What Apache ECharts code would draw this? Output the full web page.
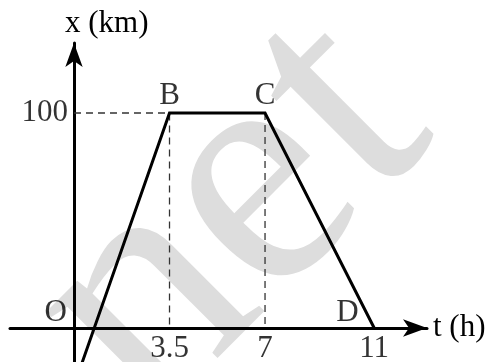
<!DOCTYPE html>
<html><head><meta charset="utf-8">
<script src="https://cdn.jsdelivr.net/npm/echarts@6/dist/echarts.min.js"></script>
<style>html,body{margin:0;padding:0;background:#fff}#c{width:493px;height:362px}</style>
</head><body><div id="c"></div>
<script>
// Data
const pathT = [0.3, 3.5, 7, 11];
const pathX = [-16, 100, 100, 0];
const pointNames = ['B', 'C', 'D'];
const pointT = [3.5, 7, 11];
const pointX = [100, 100, 0];
const tickT = [3.5, 7, 11];
const tickLabels = ['3.5', '7', '11'];
const yTickX = [100];
const yTickLabels = ['100'];
const guideB = [[0, 100], [3.5, 100], [3.5, 0]];
const guideC = [[7, 100], [7, 0]];

const FONT = "'Liberation Serif','Times New Roman',serif";
const FS = 31;
const chart = echarts.init(document.getElementById('c'), null, {renderer: 'canvas'});
const mainData = pathT.map((t, i) => [t, pathX[i]]);
const labelStyle = {color: '#000', fontFamily: FONT, fontSize: FS};
const pointLabelCfg = [
  {position: 'top', distance: 2},
  {position: 'top', distance: 2},
  {position: [-38, -31]}
];

chart.setOption({
  animation: false,
  backgroundColor: '#fff',
  graphic: [{
    type: 'text', z: -10, rotation: Math.PI / 4,
    x: 232, y: 219,
    style: {text: 'net', fill: '#dddddd', font: "335px 'Liberation Serif', 'Times New Roman', serif", align: 'center', verticalAlign: 'middle'}
  }],
  grid: {left: 10, top: 43, width: 417, height: 319, containLabel: false},
  xAxis: {
    type: 'value', min: -2.345, max: 12.935,
    name: 't (h)', nameLocation: 'end', nameGap: 6,
    nameTextStyle: labelStyle,
    axisLine: {onZero: true, lineStyle: {color: '#000', width: 3}, symbol: ['none', 'arrow'], symbolSize: [13, 24]},
    axisTick: {show: false}, axisLabel: {show: false}, splitLine: {show: false}
  },
  yAxis: {
    type: 'value', min: -15.81, max: 132.56,
    name: 'x (km)', nameLocation: 'end', nameGap: 4,
    nameTextStyle: Object.assign({}, labelStyle, {align: 'left', padding: [0, 0, 0, -9]}),
    axisLine: {onZero: true, lineStyle: {color: '#000', width: 3}, symbol: ['none', 'arrow'], symbolSize: [13, 24]},
    axisTick: {show: false}, axisLabel: {show: false}, splitLine: {show: false}
  },
  series: [
    {type: 'line', data: guideB, symbol: 'none', lineStyle: {color: '#333', width: 1.3, type: [7, 5]}, z: 2},
    {type: 'line', data: guideC, symbol: 'none', lineStyle: {color: '#333', width: 1.3, type: [7, 5]}, z: 2},
    {type: 'line', data: mainData, symbol: 'none', clip: true, lineStyle: {color: '#000', width: 3, join: 'miter'}, z: 3},
    {type: 'scatter', symbolSize: 0, z: 4,
      data: pointT.map((t, i) => ({value: [t, pointX[i]], name: pointNames[i], label: pointLabelCfg[i]})),
      label: {show: true, formatter: p => p.name, ...labelStyle},
      labelLayout: {hideOverlap: false}
    },
    {type: 'scatter', symbolSize: 0, z: 4, data: tickT.map((t, i) => ({value: [t, 0], name: tickLabels[i]})),
      label: {show: true, formatter: p => p.name, position: 'bottom', distance: 5, ...labelStyle}
    },
    {type: 'scatter', symbolSize: 0, z: 4, data: yTickX.map((v, i) => ({value: [0, v], name: yTickLabels[i]})),
      label: {show: true, formatter: p => p.name, position: 'left', distance: 6, ...labelStyle}
    },
    {type: 'scatter', symbolSize: 0, z: 4, data: [{value: [0, 0], name: 'O'}],
      label: {show: true, formatter: p => p.name, position: 'left', distance: 7, offset: [0, -15], ...labelStyle}
    }
  ]
});
</script></body></html>
